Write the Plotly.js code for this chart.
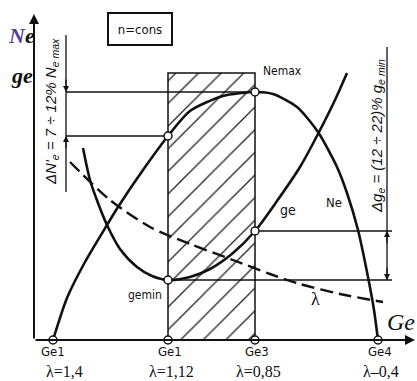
<!DOCTYPE html>
<html>
<head>
<meta charset="utf-8">
<script src="https://cdn.plot.ly/plotly-3.0.1.min.js"></script>
<style>html,body{margin:0;padding:0;background:#fff;}#chart{width:417px;height:381px;}</style>
</head>
<body>
<div id="chart"></div>
<script>
// ---- data (arbitrary units) ----
const neX = [19, 33, 51, 73, 84, 109, 134, 156, 189, 221, 239, 263, 284, 303, 313, 324, 334, 340, 344];
const neY = [0, 42, 78, 115, 133, 170, 204, 229, 244, 248, 246, 233, 208, 173, 147, 110, 63, 30, 0];

const geCurveX = [49, 56, 64, 73, 86, 103, 118, 134, 156, 176, 199, 221, 243, 266, 284, 301, 313];
const geCurveY = [192, 160, 137, 115, 91, 73, 64, 60, 63, 71, 87, 109, 139, 173, 206, 240, 267];

const lamX = [36, 76, 116, 156, 199, 236, 266, 306, 349];
const lamY = [178, 140, 113, 96, 80, 66, 56, 46, 38];

const tickX = [19, 134, 221, 344];
const tickGe = ['Ge1', 'Ge1', 'Ge3', 'Ge4'];
const tickLambda = ['λ=1,4', 'λ=1,12', 'λ=0,85', 'λ–0,4'];

// key points: Ne at Ge1(λ=1,12), Nemax, gemin, ge at Ge3
const keyX = [134, 221, 134, 221];
const keyY = [204, 248, 60, 109];

const zoneTop = 267;   // top of hatched zone
const boxText = 'n=cons';

// ---- drawing ----
const condensed = 'DejaVu Sans Condensed, Liberation Sans Narrow, Arial Narrow, Liberation Sans, sans-serif';
const serif = 'Liberation Serif, DejaVu Serif, serif';
const sans = 'Liberation Sans, Arial, sans-serif';

const leftDimX = 32;   // dimension line positions
const rightDimX = 353;
const rightEnd = 358;

const traces = [];
// hatched zone
traces.push({
  x: [tickX[1], tickX[2], tickX[2], tickX[1], tickX[1]],
  y: [0, 0, zoneTop, zoneTop, 0],
  mode: 'lines', fill: 'toself', fillcolor: 'rgba(0,0,0,0)',
  fillpattern: {shape: '/', size: 16, solidity: 0.08, fgcolor: '#222', bgcolor: 'white'},
  line: {color: '#111', width: 1.5}, hoverinfo: 'skip'
});
// guide lines
traces.push({
  x: [leftDimX, keyX[1], null, leftDimX, keyX[0], null, keyX[2], rightEnd, null, keyX[3], rightEnd],
  y: [keyY[1], keyY[1], null, keyY[0], keyY[0], null, keyY[2], keyY[2], null, keyY[3], keyY[3]],
  mode: 'lines', line: {color: '#111', width: 1.3}, hoverinfo: 'skip'
});
// dimension lines
traces.push({
  x: [leftDimX, leftDimX, null, rightDimX, rightDimX],
  y: [148, 305, null, keyY[2], 293],
  mode: 'lines', line: {color: '#111', width: 1.3}, hoverinfo: 'skip'
});
// Ne
traces.push({x: neX, y: neY, mode: 'lines', line: {color: '#111', width: 2.6, shape: 'spline', smoothing: 0.7}});
// ge
traces.push({x: geCurveX, y: geCurveY, mode: 'lines', line: {color: '#111', width: 2.6, shape: 'spline', smoothing: 0.8}});
// lambda
traces.push({x: lamX, y: lamY, mode: 'lines', line: {color: '#111', width: 2.4, dash: '13px,6px', shape: 'spline', smoothing: 0.8}});
// markers
traces.push({
  x: tickX.concat(keyX), y: tickX.map(() => 0).concat(keyY),
  mode: 'markers', marker: {symbol: 'circle', size: 8, color: 'white', line: {color: '#111', width: 1.5}},
  hoverinfo: 'skip'
});

const ann = [];
function arrow(x, y, ax, ay, w, head) {
  ann.push({x: x, y: y, ax: ax, ay: ay, axref: 'x', ayref: 'y', xref: 'x', yref: 'y',
    text: '', showarrow: true, arrowhead: head, arrowsize: 1, arrowwidth: w, arrowcolor: '#111', standoff: 0});
}
// axes with arrows
arrow(0, 326, 0, 0, 2, 2);
arrow(381, 0, 0, 0, 2, 2);
// dimension arrows
arrow(leftDimX, keyY[1], leftDimX, keyY[1] + 14, 1.2, 2);
arrow(leftDimX, keyY[0], leftDimX, keyY[0] - 14, 1.2, 2);
arrow(rightDimX, keyY[3], rightDimX, keyY[3] - 14, 1.2, 2);
arrow(rightDimX, keyY[2], rightDimX, keyY[2] + 14, 1.2, 2);

function label(x, y, text, font, extra) {
  ann.push(Object.assign({x: x, y: y, xref: 'x', yref: 'y', text: text, showarrow: false, font: font}, extra || {}));
}
// tick labels
tickX.forEach((x, i) => {
  label(x, -11, tickGe[i], {family: condensed, size: 13, color: '#111'}, {xshift: i === 0 ? 0 : 2});
  if (i === 0) {
    label(x - 9, -31, tickLambda[i], {family: serif, size: 16, color: '#111'}, {xanchor: 'left'});
  } else {
    label(x, -31, tickLambda[i], {family: serif, size: 16, color: '#111'}, {xshift: 3});
  }
});
// curve labels
label(248, 269, 'Nemax', {family: condensed, size: 12, color: '#111'});
label(111, 45, 'gemin', {family: condensed, size: 12, color: '#111'});
label(254, 130, 'ge', {family: condensed, size: 14, color: '#111'});
label(300, 138, 'Ne', {family: condensed, size: 13, color: '#111'});
label(281, 41, 'λ', {family: serif, size: 18, color: '#111'});
// axis titles
label(-13, 305, '<b><i><span style="color:#5a3f9a">N</span>e</i></b>', {family: serif, size: 22, color: '#111'});
label(-12, 265, '<b><i>ge</i></b>', {family: serif, size: 22, color: '#111'});
label(383, 18, '<i>Ge</i>', {family: serif, size: 24, color: '#111'}, {xanchor: 'right'});
// rotated dimension texts
label(17, 228, '<i>ΔN\'<sub>e</sub> = 7 ÷ 12% N<sub>e max</sub></i>', {family: sans, size: 15, color: '#111'}, {textangle: -90});
label(343, 204, '<i>Δg<sub>e</sub> = (12 ÷ 22)% g<sub>e min</sub></i>', {family: sans, size: 15, color: '#111'}, {textangle: -90});
// box
label(105.5, 311.5, boxText, {family: condensed, size: 13, color: '#111'},
  {bordercolor: '#111', borderwidth: 2, borderpad: 5, width: 52, height: 20, bgcolor: 'white'});

const layout = {
  width: 417, height: 381,
  margin: {l: 0, r: 0, t: 0, b: 0},
  paper_bgcolor: 'white', plot_bgcolor: 'white',
  showlegend: false,
  xaxis: {range: [-34, 383], visible: false, fixedrange: true},
  yaxis: {range: [-41, 340], visible: false, fixedrange: true},
  annotations: ann
};
Plotly.newPlot('chart', traces, layout, {staticPlot: true, displayModeBar: false});
</script>
</body>
</html>
